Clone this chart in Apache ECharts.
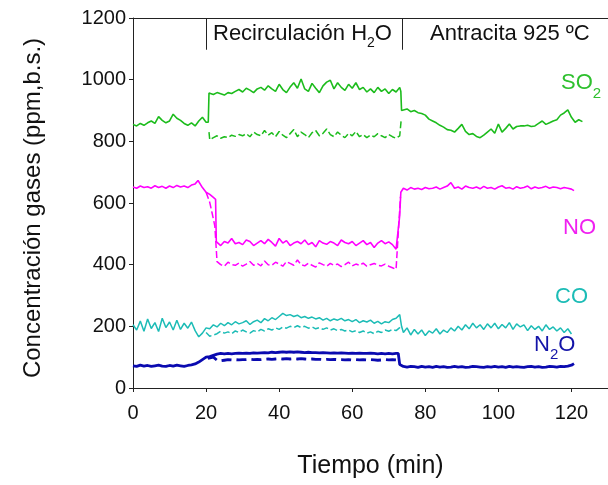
<!DOCTYPE html>
<html>
<head>
<meta charset="utf-8">
<script src="https://cdn.jsdelivr.net/npm/echarts@6/dist/echarts.min.js"></script>
<style>
html,body{margin:0;padding:0;background:#fff;}
#chart{width:608px;height:485px;}
</style>
</head>
<body>
<div id="chart"></div>
<script>
// ---- Data (ppm, b.s.) : values at whole minutes starting at the given minute, plus a few extra points at the steps ----
var xTicks = [0, 20, 40, 60, 80, 100, 120];
var yTicks = [0, 200, 400, 600, 800, 1000, 1200];
var phaseBoundaries = [20, 73.6];
var phaseLabels = ['Recirculación H', 'Antracita 925 ºC'];
var xTitle = 'Tiempo (min)';
var yTitle = 'Concentración gases (ppm,b.s.)';

var so2SolidStart = 0;
var so2Solid = [
  855, 850, 858, 852, 860, 866, 858, 880, 868, 860,
  866, 888, 875, 868, 858, 852, 860, 850, 866, 878, 862,
  955, 952, 958, 954, 950, 958, 955, 962, 968, 960,
  972, 966, 958, 970, 975, 966, 980, 970, 962, 985,
  968, 958, 976, 990, 972, 1002, 970, 962, 988, 972,
  958, 980, 992, 998, 970, 990, 975, 965, 985, 972,
  990, 968, 975, 960, 970, 958, 975, 962, 970, 955,
  968, 960, 975,
  900, 905, 896, 900, 893, 890, 885, 872, 866, 860,
  852, 846, 838, 836, 830, 842, 855, 832, 822, 825,
  816, 812, 820, 830, 840, 826, 856, 830, 842, 856,
  840, 848, 850, 850, 852, 848, 850, 858, 866, 855,
  860, 866, 870, 885, 892, 902, 878, 862, 870, 864
];
var so2SolidSteps = [[20.6, 862], [20.8, 957], [73.3, 962], [73.5, 900]];

var so2DashStart = 21;
var so2Dash = [
  805, 812, 818, 810, 815, 812, 820, 816, 822, 818,
  825, 815, 830, 822, 818, 835, 820, 828, 815, 832,
  820, 812, 825, 838, 815, 830, 822, 812, 828, 835,
  818, 826, 840, 822, 815, 830, 820, 812, 826, 818,
  832, 815, 822, 812, 820, 815, 825, 818, 812, 822,
  815, 810, 818
];
var so2DashSteps = [[20.8, 830], [73.4, 870]];

var noSolidStart = 0;
var noSolid = [
  652, 648, 655, 650, 653, 648, 656, 650, 654, 648,
  655, 650, 657, 652, 655, 650, 658, 662, 668, 650,
  635, 628, 618,
  478, 462, 475, 470, 485, 468, 472, 465, 480, 475,
  462, 470, 478, 468, 482, 472, 460, 485, 470, 478,
  462, 470, 475, 468, 480, 465, 472, 458, 478, 470,
  466, 475, 470, 462, 480, 472, 468, 475, 462, 470,
  478, 465, 472, 456, 470, 478, 468, 474, 465, 450,
  560,
  648, 642, 650, 645, 648, 644, 650, 646, 648, 652,
  645, 650, 655, 666, 648, 652, 645, 655, 650, 648,
  652, 646, 654, 648, 650, 645, 652, 656, 648, 650,
  645, 653, 648, 650, 655, 646, 652, 648, 650, 654,
  648, 652, 650, 646, 650, 648, 645
];
var noSolidSteps = [[17.8, 673], [22.6, 612], [22.8, 475], [72.4, 455], [73.3, 635], [120.7, 640]];

var noDashStart = 24;
var noDash = [
  400, 395, 408, 400, 398, 405, 395, 402, 410, 398,
  404, 396, 412, 400, 398, 408, 402, 395, 410, 404,
  398, 415, 400, 396, 405, 398, 392, 406, 400, 395,
  404, 398, 402, 394, 400, 408, 396, 402, 398, 405,
  395, 400, 404, 398, 396, 402, 395, 390, 385
];
var noDashSteps = [[20, 635], [21, 602], [21.6, 570], [22.0, 548], [22.4, 525], [22.8, 520], [23, 410], [72.5, 388], [73.2, 620]];

var coSolidStart = 0;
var coSolid = [
  205, 188, 217, 184, 224, 193, 212, 183, 226, 196,
  214, 188, 220, 190, 210, 194, 214, 186, 166, 178,
  195, 192, 205, 198, 210, 202, 212, 205, 215, 208,
  212, 218, 206, 215, 220, 212, 225, 218, 228, 222,
  232, 242, 235, 238, 232, 236, 228, 232, 226, 230,
  224, 228, 220, 226, 218, 224, 220, 226, 218, 222,
  215, 222, 212, 218, 214, 220, 210, 216, 208, 215,
  212, 222, 226, 238, 180, 195, 172, 190, 175, 188,
  170, 185, 178, 192, 175, 188, 180, 195, 185, 200,
  188, 205, 192, 210, 195, 205, 190, 208, 195, 210,
  192, 206, 195, 212, 190, 208, 198, 205, 186, 202,
  190, 200, 185, 205, 190, 198, 185, 195, 180, 192, 175
];
var coSolidSteps = [[73.5, 200]];

var coDashStart = 20;
var coDash = [
  180, 168, 172, 176, 184, 178, 182, 176, 185, 180,
  188, 182, 178, 186, 182, 190, 185, 192, 188, 195,
  190, 198, 194, 200, 196, 202, 196, 200, 194, 198,
  192, 196, 190, 195, 188, 192, 186, 190, 185, 188,
  182, 186, 180, 185, 178, 182, 176, 184, 180, 188,
  184, 190, 186, 196
];
var coDashSteps = [[73.5, 205]];

var n2oSolidStart = 0;
var n2oSolid = [
  72, 70, 74, 71, 73, 70, 72, 74, 71, 70,
  73, 71, 74, 72, 70, 73, 75, 78, 84, 92,
  100, 102, 106, 110, 112, 111, 112, 111, 112, 113,
  112, 113, 112, 114, 113, 114, 115, 114, 116, 115,
  116, 117, 116, 117, 116, 117, 116, 115, 116, 115,
  115, 114, 115, 114, 113, 114, 113, 114, 113, 112,
  113, 112, 113, 112, 112, 113, 112, 111, 112, 111,
  112, 111, 112, 76, 70, 68, 70, 69, 67, 70,
  68, 69, 67, 70, 68, 69, 67, 68, 70, 68,
  69, 67, 68, 70, 69, 68, 67, 69, 68, 70,
  68, 69, 67, 70, 68, 69, 68, 67, 69, 70,
  68, 69, 67, 68, 70, 69, 68, 70, 69, 71, 74
];
var n2oSolidSteps = [[72.6, 112], [73.4, 72], [120.7, 79]];

var n2oDashStart = 21;
var n2oDash = [
  96, 100, 90, 88, 90, 92, 91, 92, 91, 92,
  92, 93, 92, 93, 92, 93, 94, 93, 94, 95,
  94, 95, 94, 95, 94, 95, 94, 93, 94, 93,
  93, 92, 93, 92, 93, 92, 92, 91, 92, 91,
  92, 91, 92, 91, 92, 91, 90, 91, 92, 91,
  92, 91
];
var n2oDashSteps = [[20.5, 96], [72.8, 80]];

// ---- helpers ----
function build(start, vals, steps) {
  var pts = vals.map(function (v, i) { return [start + i, v]; });
  steps.forEach(function (p) { pts.push(p); });
  pts.sort(function (a, b) { return a[0] - b[0]; });
  return pts;
}

var FONT = '"Liberation Sans", Arial, sans-serif';
var C_SO2 = '#1cbc1c', C_NO = '#ff00ff', C_CO = '#1cbcb6', C_N2O = '#0a0ab0';

function lineSeries(name, data, color, width, dash) {
  return {
    name: name, type: 'line', data: data, showSymbol: false, symbol: 'none',
    lineStyle: { color: color, width: width, type: dash || 'solid' },
    silent: true, animation: false, z: 3
  };
}

var series = [
  lineSeries('SO2', build(so2SolidStart, so2Solid, so2SolidSteps), C_SO2, 1.6),
  lineSeries('SO2 b', build(so2DashStart, so2Dash, so2DashSteps), C_SO2, 1.5, [7, 3]),
  lineSeries('NO', build(noSolidStart, noSolid, noSolidSteps), C_NO, 1.6),
  lineSeries('NO b', build(noDashStart, noDash, noDashSteps), C_NO, 1.5, [7, 3]),
  lineSeries('CO', build(coSolidStart, coSolid, coSolidSteps), C_CO, 1.5),
  lineSeries('CO b', build(coDashStart, coDash, coDashSteps), C_CO, 1.5, [7, 3]),
  lineSeries('N2O', build(n2oSolidStart, n2oSolid, n2oSolidSteps), C_N2O, 2.8),
  lineSeries('N2O b', build(n2oDashStart, n2oDash, n2oDashSteps), C_N2O, 2.8, [10, 5])
];

series[0].markLine = {
  symbol: 'none', silent: true, animation: false,
  label: { show: false },
  lineStyle: { color: '#222', width: 1, type: 'solid' },
  data: phaseBoundaries.map(function (t) { return [{ coord: [t, 1200] }, { coord: [t, 1097] }]; })
};

var axisCol = '#222';
var chart = echarts.init(document.getElementById('chart'), null, { renderer: 'canvas' });

var measureCtx = document.createElement('canvas').getContext('2d');
function textWidth(t, size) {
  measureCtx.font = size + 'px ' + FONT;
  return measureCtx.measureText(t).width;
}

// parts: [text, isSub]; text laid out left to right, subscripts shifted down
function label(x, yCenter, parts, color, size, subSize, subDrop) {
  var children = [];
  var cx = 0;
  parts.forEach(function (p) {
    var fs = p[1] ? subSize : size;
    children.push({
      type: 'text', x: cx, y: p[1] ? subDrop : 0, silent: true,
      style: { text: p[0], font: fs + 'px ' + FONT, fill: color, align: 'left', verticalAlign: 'middle' }
    });
    cx += textWidth(p[0], fs);
  });
  return { type: 'group', x: x, y: yCenter, children: children, z: 10, silent: true };
}

var option = {
  backgroundColor: '#fff',
  animation: false,
  grid: { left: 133, top: 18, width: 476, height: 370, containLabel: false },
  xAxis: [{
    type: 'value', min: 0, max: 130, interval: 20,
    name: xTitle, nameLocation: 'middle', nameGap: 66,
    nameTextStyle: { fontSize: 25, fontFamily: FONT, color: '#111' },
    axisLine: { show: true, lineStyle: { color: axisCol, width: 1 } },
    axisTick: { show: true, inside: false, length: 4, lineStyle: { color: axisCol } },
    axisLabel: {
      fontSize: 20, fontFamily: FONT, color: '#111', margin: 15,
      showMaxLabel: false,
      formatter: function (v) { return xTicks.indexOf(v) >= 0 ? String(v) : ''; }
    },
    splitLine: { show: false }
  }, {
    type: 'value', position: 'top', min: 0, max: 130,
    axisLine: { show: true, onZero: false, lineStyle: { color: axisCol, width: 1 } },
    axisTick: { show: false }, axisLabel: { show: false }, splitLine: { show: false }
  }],
  yAxis: [{
    type: 'value', min: 0, max: 1200, interval: 200,
    axisLine: { show: true, lineStyle: { color: axisCol, width: 1 } },
    axisTick: { show: true, inside: false, length: 4, lineStyle: { color: axisCol } },
    axisLabel: {
      fontSize: 20, fontFamily: FONT, color: '#111', margin: 7,
      formatter: function (v) { return yTicks.indexOf(v) >= 0 ? String(v) : ''; }
    },
    splitLine: { show: false }
  }],
  series: series,
  graphic: [
    {
      type: 'text', x: 33, y: 208, rotation: Math.PI / 2, silent: true,
      style: { text: yTitle, font: '24px ' + FONT, fill: '#111', align: 'center', verticalAlign: 'middle' }
    },
    label(213, 34, [[phaseLabels[0], false], ['2', true], ['O', false]], '#111', 22, 14, 9),
    label(430, 34, [[phaseLabels[1], false]], '#111', 22, 14, 9),
    label(561, 83, [['SO', false], ['2', true]], '#2ec02e', 22, 15, 11),
    label(563, 228, [['NO', false]], '#f020f0', 22, 15, 10),
    label(555, 297, [['CO', false]], '#1cbcb6', 22, 15, 10),
    label(534, 345, [['N', false], ['2', true], ['O', false]], '#1414a8', 22, 15, 10)
  ]
};
chart.setOption(option);
</script>
</body>
</html>
